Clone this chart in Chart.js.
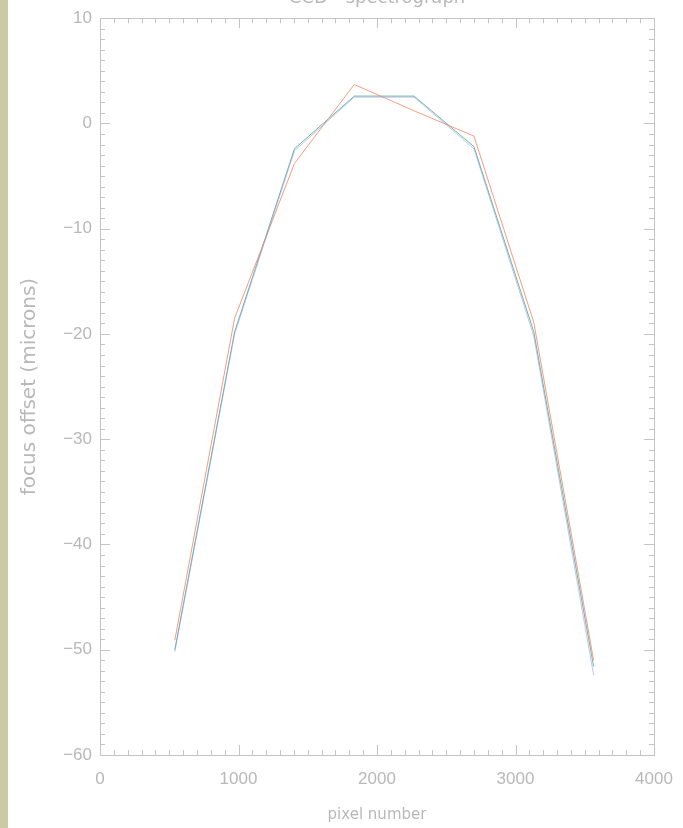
<!DOCTYPE html>
<html>
<head>
    <title>Focus offset vs pixel number</title>
    <script src="https://cdn.jsdelivr.net/npm/chart.js"></script>
    <style>
        body { margin: 0; background: #fff; }
        #wrap { position: absolute; left: 0; top: 0; width: 675px; height: 828px; border-left: 8px solid #cbcaa4; }
    </style>
</head>
<body>
    <div id="wrap"><canvas id="focusChart" width="675" height="828"></canvas></div>

    <script>
        const pixels = [540, 972, 1404, 1836, 2268, 2700, 3132, 3564];
        const tealFocus = [-50.0, -19.8, -2.4, 2.6, 2.6, -2.2, -19.8, -51.6];
        const orangeFocus = [-49.1, -18.5, -3.8, 3.7, 1.2, -1.2, -18.9, -51.0];
        const blueFocus = [-50.2, -20.0, -2.6, 2.5, 2.5, -2.4, -20.2, -52.4];
        const xTicks = [0, 1000, 2000, 3000, 4000];
        const yTicks = [10, 0, -10, -20, -30, -40, -50, -60];

        const axisGrey = '#c4c4c4';
        const textGrey = '#b8b8b8';

        function toPoints(ys) {
            return pixels.map((x, i) => ({ x: x, y: ys[i] }));
        }

        // IDL style ticks drawn inward on all four sides
        const inwardTicks = {
            id: 'inwardTicks',
            afterDraw(chart) {
                const ctx = chart.ctx;
                const a = chart.chartArea;
                const xs = chart.scales.x, ys = chart.scales.y;
                ctx.save();
                ctx.strokeStyle = axisGrey;
                ctx.lineWidth = 1;
                ctx.beginPath();
                for (let v = 0; v <= 4000; v += 100) {
                    const px = Math.round(xs.getPixelForValue(v)) + 0.5;
                    const len = v % 1000 === 0 ? 10 : 5;
                    ctx.moveTo(px, a.bottom); ctx.lineTo(px, a.bottom - len);
                    ctx.moveTo(px, a.top); ctx.lineTo(px, a.top + len);
                }
                for (let v = -60; v <= 10; v += 1) {
                    const py = Math.round(ys.getPixelForValue(v)) + 0.5;
                    const len = v % 10 === 0 ? 10 : 5;
                    ctx.moveTo(a.left, py); ctx.lineTo(a.left + len, py);
                    ctx.moveTo(a.right, py); ctx.lineTo(a.right - len, py);
                }
                ctx.stroke();
                ctx.strokeRect(Math.round(a.left) + 0.5, Math.round(a.top) + 0.5,
                    Math.round(a.right - a.left), Math.round(a.bottom - a.top));
                // title, mostly cut off by the top of the page
                ctx.fillStyle = textGrey;
                ctx.font = '18px "DejaVu Sans"';
                ctx.textAlign = 'center';
                ctx.textBaseline = 'alphabetic';
                ctx.fillText('CCD - spectrograph', (a.left + a.right) / 2, 3);
                ctx.restore();
            }
        };

        const ctx = document.getElementById('focusChart').getContext('2d');
        new Chart(ctx, {
            type: 'line',
            data: {
                datasets: [
                    { label: 'blue', data: toPoints(blueFocus), borderColor: 'rgba(140, 150, 235, 0.55)', borderWidth: 1, pointRadius: 0, fill: false },
                    { label: 'orange', data: toPoints(orangeFocus), borderColor: 'rgba(242, 140, 105, 0.85)', borderWidth: 1, pointRadius: 0, fill: false },
                    { label: 'teal', data: toPoints(tealFocus), borderColor: 'rgba(85, 170, 145, 0.85)', borderWidth: 1, pointRadius: 0, fill: false }
                ]
            },
            options: {
                responsive: false,
                animation: false,
                layout: { padding: { top: 18, right: 29, left: 0, bottom: 0 } },
                plugins: { legend: { display: false }, tooltip: { enabled: false } },
                scales: {
                    x: {
                        type: 'linear',
                        min: 0, max: 4000,
                        afterBuildTicks(scale) { scale.ticks = xTicks.map(v => ({ value: v })); },
                        afterFit(scale) {
                            scale.height = 73;
                            scale.paddingLeft = 0;
                            scale.paddingRight = 0;
                        },
                        grid: { display: false, drawTicks: false },
                        border: { display: false },
                        ticks: {
                            color: textGrey, font: { family: 'Liberation Sans', size: 17 }, padding: 14, maxRotation: 0,
                            callback: v => String(v)
                        },
                        title: { display: true, text: 'pixel number', color: textGrey, font: { family: 'DejaVu Sans', size: 15 }, padding: { top: 6 } }
                    },
                    y: {
                        type: 'linear',
                        min: -60, max: 10,
                        afterBuildTicks(scale) { scale.ticks = yTicks.map(v => ({ value: v })); },
                        afterFit(scale) { scale.width = 92; },
                        grid: { display: false, drawTicks: false },
                        border: { display: false },
                        ticks: {
                            color: textGrey, font: { family: 'Liberation Sans', size: 17 }, padding: 8,
                            callback: v => String(v).replace('-', '\u2212')
                        },
                        title: { display: true, text: 'focus offset (microns)', color: textGrey, font: { family: 'DejaVu Sans', size: 20 }, padding: { top: 10, bottom: 0 } }
                    }
                }
            },
            plugins: [inwardTicks]
        });
    </script>
</body>
</html>
